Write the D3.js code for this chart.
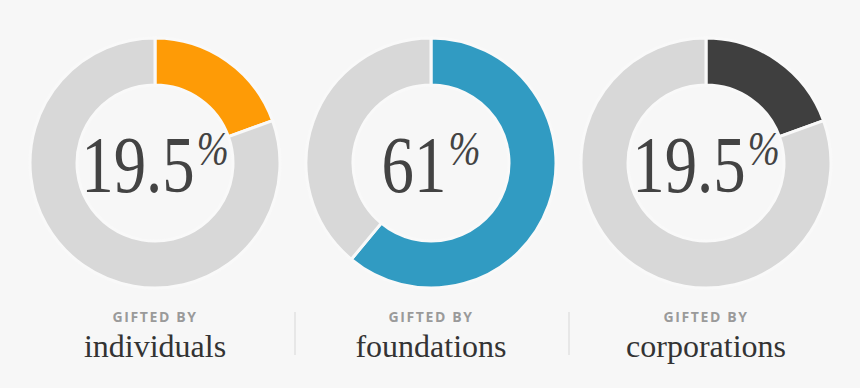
<!DOCTYPE html>
<html>
<head>
<meta charset="utf-8">
<script src="https://cdn.jsdelivr.net/npm/d3@7"></script>
<style>
  html, body { margin: 0; padding: 0; background: #f7f7f7; }
</style>
</head>
<body>
<script>
var categories = ["individuals", "foundations", "corporations"];
var values = [19.5, 61, 19.5];
var labels = ["19.5", "61", "19.5"];
var colors = ["#fe9b06", "#319bc2", "#3f3f3f"];

var width = 860, height = 388;
var centers = [155, 431, 706];
var cy = 163, outerR = 125, innerR = 78;

var svg = d3.select("body").append("svg")
  .attr("width", width)
  .attr("height", height);

var pie = d3.pie().sort(null).value(function(d) { return d; });
var arc = d3.arc().innerRadius(innerR).outerRadius(outerR);

var groups = svg.selectAll("g.donut")
  .data(values)
  .enter()
  .append("g")
  .attr("class", "donut")
  .attr("transform", function(d, i) { return "translate(" + centers[i] + "," + cy + ")"; });

groups.each(function(v, i) {
  var g = d3.select(this);
  g.selectAll("path")
    .data(pie([v, 100 - v]))
    .enter()
    .append("path")
    .attr("d", arc)
    .attr("fill", function(d, j) { return j == 0 ? colors[i] : "#d8d8d8"; })
    .attr("stroke", "#f9f9f9")
    .attr("stroke-width", 3);

  var num = g.append("text")
    .attr("font-family", "Liberation Serif")
    .attr("font-size", 81)
    .attr("fill", "#434343")
    .text(labels[i]);
  var pct = g.append("text")
    .attr("font-family", "Liberation Serif")
    .attr("font-style", "italic")
    .attr("font-size", 48)
    .attr("fill", "#434343")
    .text("%");

  var sx = 0.8;
  var w = num.node().getComputedTextLength() * sx;
  var p = pct.node().getComputedTextLength() * 0.8;
  var x0 = -(w + 2 + p) / 2;
  num.attr("transform", "translate(" + x0 + ",29) scale(" + sx + ",1)");
  pct.attr("transform", "translate(" + (x0 + w + 2) + ",2) scale(0.8,1)");

  g.append("text")
    .attr("text-anchor", "middle")
    .attr("y", 159)
    .attr("font-family", "Open Sans")
    .attr("font-weight", "bold")
    .attr("font-size", 14)
    .attr("letter-spacing", 1.6)
    .attr("fill", "#9a9a9a")
    .text("GIFTED BY");

  g.append("text")
    .attr("text-anchor", "middle")
    .attr("y", 194)
    .attr("font-family", "Liberation Serif")
    .attr("font-size", 32)
    .attr("fill", "#333")
    .text(categories[i]);
});

svg.selectAll("line.sep")
  .data([295, 569])
  .enter()
  .append("line")
  .attr("class", "sep")
  .attr("x1", function(d) { return d; })
  .attr("x2", function(d) { return d; })
  .attr("y1", 312)
  .attr("y2", 355)
  .attr("stroke", "#e2e2e2")
  .attr("stroke-width", 1.5);
</script>
</body>
</html>
